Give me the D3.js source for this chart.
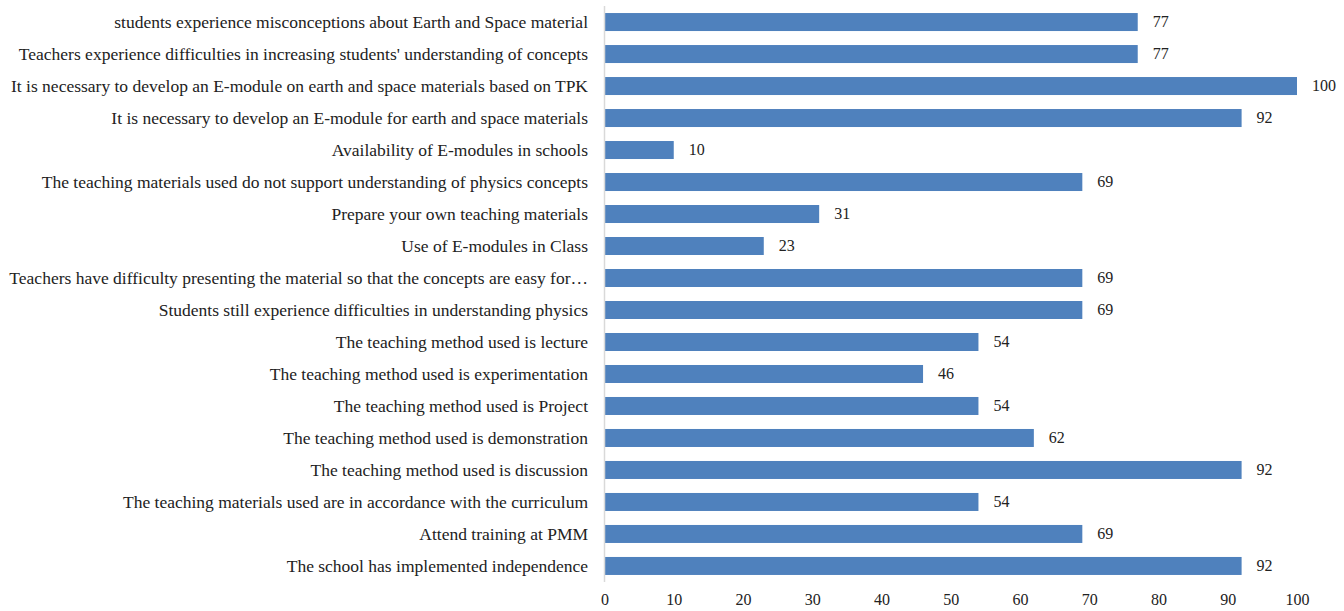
<!DOCTYPE html>
<html><head><meta charset="utf-8">
<script src="https://cdn.jsdelivr.net/npm/d3@7"></script>
<style>body{margin:0;background:#fff}svg{display:block}text{font-family:"Liberation Serif",serif;fill:#222}</style>
</head><body>
<svg id="c" width="1344" height="611"></svg>
<script>
const categories = [
"students experience misconceptions about Earth and Space material",
"Teachers experience difficulties in increasing students' understanding of concepts",
"It is necessary to develop an E-module on earth and space materials based on TPK",
"It is necessary to develop an E-module for earth and space materials",
"Availability of E-modules in schools",
"The teaching materials used do not support understanding of physics concepts",
"Prepare your own teaching materials",
"Use of E-modules in Class",
"Teachers have difficulty presenting the material so that the concepts are easy for\u2026",
"Students still experience difficulties in understanding physics",
"The teaching method used is lecture",
"The teaching method used is experimentation",
"The teaching method used is Project",
"The teaching method used is demonstration",
"The teaching method used is discussion",
"The teaching materials used are in accordance with the curriculum",
"Attend training at PMM",
"The school has implemented independence"
];
const values = [77,77,100,92,10,69,31,23,69,69,54,46,54,62,92,54,69,92];
const ticks = [0,10,20,30,40,50,60,70,80,90,100];

const svg = d3.select("#c");
const x = d3.scaleLinear().domain([0,100]).range([604.5,1297]);
const y = d3.scaleBand().domain(categories).range([6,582]).paddingInner(0.4375).paddingOuter(0.22);

svg.selectAll("rect.bar").data(values).enter().append("rect")
  .attr("class","bar")
  .attr("x", x(0))
  .attr("y", (d,i)=>y(categories[i]))
  .attr("width", d=>x(d)-x(0))
  .attr("height", y.bandwidth())
  .attr("fill","#4F81BD");

svg.append("line").attr("x1",x(0)).attr("x2",x(0)).attr("y1",6).attr("y2",582)
  .attr("stroke","#d9d9d9").attr("stroke-width",1.5);

svg.selectAll("text.cat").data(categories).enter().append("text")
  .attr("class","cat")
  .attr("x",588).attr("y",d=>y(d)+y.bandwidth()/2)
  .attr("dy","0.33em").attr("text-anchor","end")
  .attr("font-size",17.5).text(d=>d);

svg.selectAll("text.val").data(values).enter().append("text")
  .attr("class","val")
  .attr("x",d=>x(d)+15).attr("y",(d,i)=>y(categories[i])+y.bandwidth()/2)
  .attr("dy","0.33em").attr("text-anchor","start")
  .attr("font-size",16).text(d=>d);

const axis = d3.axisBottom(x).tickValues(ticks).tickSize(0).tickPadding(0);
const g = svg.append("g").attr("transform","translate(0,594)").call(axis);
g.select(".domain").remove();
g.selectAll("text").attr("font-size",16).attr("font-family","Liberation Serif").attr("fill","#222");
</script>
</body></html>
